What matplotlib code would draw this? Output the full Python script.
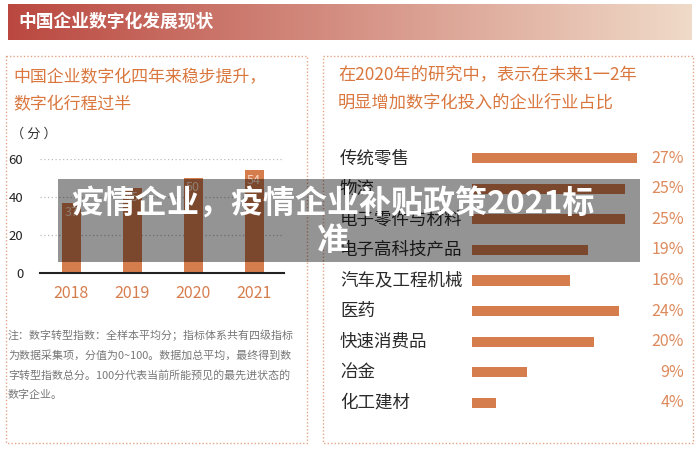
import matplotlib
matplotlib.use('Agg')
import matplotlib.pyplot as plt
import matplotlib.transforms as mtransforms
from matplotlib.patches import Rectangle
import numpy as np

plt.rcParams['font.family'] = ['Noto Sans CJK SC', 'DejaVu Sans']

# data
years = ['2018', '2019', '2020', '2021']
scores = [37, 45, 50, 54]
score_ticks = [0, 20, 40, 60]

industries = ['传统零售', '物流', '电子零件与材料', '电子高科技产品', '汽车及工程机械',
              '医药', '快速消费品', '冶金', '化工建材']
shares = [27, 25, 25, 19, 16, 24, 20, 9, 4]

header = '中国企业数字化发展现状'
left_title = ['中国企业数字化四年来稳步提升，', '数字化行程过半']
right_title = ['在2020年的研究中，表示在未来1一2年', '明显增加数字化投入的企业行业占比']
note_lines = ['注：数字转型指数：全样本平均分；指标体系共有四级指标',
              '为数据采集项，分值为0~100。数据加总平均，最终得到数',
              '字转型指数总分。100分代表当前所能预见的最先进状态的',
              '数字企业。']
overlay_lines = ['疫情企业，疫情企业补贴政策2021标', '准']

W, H = 699, 450
orange = '#d67d4e'
title_orange = '#d9773f'

fig = plt.figure(figsize=(W / 100, H / 100), dpi=100)


def px_axes(x0, y0, x1, y1):
    return fig.add_axes([x0 / W, 1 - y1 / H, (x1 - x0) / W, (y1 - y0) / H])


# background layer in pixel coords
bg = px_axes(0, 0, W, H)
bg.set_xlim(0, W)
bg.set_ylim(H, 0)
bg.axis('off')

grad = np.linspace(0, 1, 256)
c0 = np.array([186, 72, 64]) / 255
c1 = np.array([240, 218, 200]) / 255
img = (c0[None, :] * (1 - grad[:, None]) + c1[None, :] * grad[:, None])[None, :, :]
bg.imshow(img, extent=[8, 692, 40, 4], aspect='auto')
bg.text(18, 22, header, color='white', fontsize=12.8, fontweight='bold', va='center')

for x0, x1 in [(6, 307), (323, 693)]:
    bg.add_patch(Rectangle((x0, 56), x1 - x0, 387, fill=False, ec='#e3a586',
                           lw=1, ls=(0, (1, 1.5))))

for i, t in enumerate(left_title):
    bg.text(13, 77 + 27 * i, t, color=title_orange, fontsize=12.2, va='center')
for i, t in enumerate(right_title):
    bg.text(338, 75 + 28 * i, t, color=title_orange, fontsize=12.4, va='center')
bg.text(11, 134, '（ 分 ）', color='#333333', fontsize=9.5, va='center')
for i, t in enumerate(note_lines):
    bg.text(8, 335 + 20 * i, t, color='#777777', fontsize=7.9, va='center')

# left bar chart
ax = px_axes(40, 159, 284, 273)
x = np.arange(len(years))
ax.bar(x, scores, width=0.31, color=orange, zorder=2)
ax.set_xlim(-0.51, 3.49)
ax.set_ylim(0, 60)
ax.set_yticks(score_ticks)
ax.set_yticklabels([str(v) for v in score_ticks], fontsize=9.5, color='#222222')
ax.set_xticks(x)
ax.set_xticklabels(years, fontsize=11.5, color=orange)
ax.tick_params(length=0)
ax.tick_params(axis='y', pad=12)
ax.tick_params(axis='x', pad=9)
for s in ['top', 'right', 'left']:
    ax.spines[s].set_visible(False)
ax.spines['bottom'].set_color('#222222')
ax.spines['bottom'].set_linewidth(1.5)
ax.grid(axis='y', color='#bbbbbb', ls=(0, (1, 2)), lw=0.9)
ax.set_axisbelow(True)
ax.set_facecolor('none')
for xi, v in zip(x, scores):
    ax.annotate(str(v), (xi, v), xytext=(0, -7), textcoords='offset points',
                ha='center', va='center', color='#f6d9c6', fontsize=9)

# right bar chart
ax2 = px_axes(472, 143, 637, 418)
y = np.arange(len(industries))
ax2.barh(y, shares, height=0.33, color=orange)
ax2.set_xlim(0, 27)
ax2.set_ylim(len(industries) - 0.5, -0.5)
ax2.axis('off')
tr = mtransforms.blended_transform_factory(bg.transData, ax2.transData)
for yi, name, v in zip(y, industries, shares):
    ax2.text(340, yi, name, transform=tr, color='#2a2a2a', fontsize=12.6,
             va='center', ha='left')
    ax2.text(684, yi, f'{v}%', transform=tr, color='#dd8a5c', fontsize=11.5,
             va='center', ha='right')

# overlay band on top
top = px_axes(0, 0, W, H)
top.set_xlim(0, W)
top.set_ylim(H, 0)
top.axis('off')
top.patch.set_alpha(0)
top.add_patch(Rectangle((58, 179), 582, 83, color='black', alpha=0.42, lw=0))
top.text(333, 205, overlay_lines[0], color='white', fontsize=23, fontweight='bold',
         ha='center', va='center')
top.text(333, 241, overlay_lines[1], color='white', fontsize=23, fontweight='bold',
         ha='center', va='center')

fig.savefig('out.png', dpi=100)
